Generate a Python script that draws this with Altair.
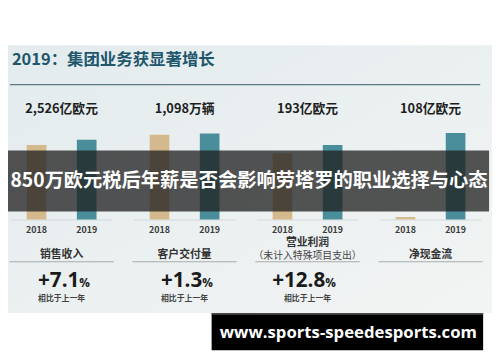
import altair as alt
import pandas as pd

# ---- data ----
categories = ["销售收入", "客户交付量", "营业利润", "净现金流"]
years = ["2018", "2019"]
values_2018 = [2359, 1084, 171, 3]
values_2019 = [2526, 1098, 193, 108]
headline_labels = ["2,526亿欧元", "1,098万辆", "193亿欧元", "108亿欧元"]
category_notes = ["", "", "（未计入特殊项目支出）", ""]
growth_values = ["+7.1", "+1.3", "+12.8", ""]
growth_caption = "相比于上一年"
title_text = "2019：集团业务获显著增长"
banner_text = "850万欧元税后年薪是否会影响劳塔罗的职业选择与心态"
footer_text = "www.sports-speedesports.com"

# each small panel has its own y scale (scale maxima, not data)
scale_tops = [3119, 1258, 255, 123]

W, H = 492, 354
FONT = "Noto Sans CJK SC"

bars_df = pd.DataFrame({
    "category": categories * 2,
    "year": [years[0]] * 4 + [years[1]] * 4,
    "value": values_2018 + values_2019,
})
cats_df = pd.DataFrame({
    "category": categories,
    "headline": headline_labels,
    "note": category_notes,
    "growth": growth_values,
})
one = pd.DataFrame({"k": [0]})

x_enc = alt.X("category:N",
              scale=alt.Scale(domain=categories, range=[-8, 492],
                              paddingInner=0, paddingOuter=0),
              axis=None)
xo_enc = alt.XOffset("year:N",
                     scale=alt.Scale(domain=years, paddingInner=0.608,
                                     paddingOuter=0.53))
color_enc = alt.Color("year:N",
                      scale=alt.Scale(domain=years, range=["#d4b98d", "#4a8e9b"]),
                      legend=None)

layers = []

# background panel
layers.append(alt.Chart(one).mark_rect(
    fill=alt.Gradient(gradient="linear",
                      stops=[alt.GradientStop(color="#e3ebee", offset=0),
                             alt.GradientStop(color="#f2f4f3", offset=1)],
                      x1=0, y1=0, x2=1, y2=1)
).encode(x=alt.value(-8), x2=alt.value(W), y=alt.value(35), y2=alt.value(307)))

# title + rule
layers.append(alt.Chart(one).mark_text(
    align="left", baseline="middle", fontSize=16.7, fontWeight="bold",
    color="#20566a", font=FONT, text=title_text
).encode(x=alt.value(4), y=alt.value(50)))
layers.append(alt.Chart(one).mark_rule(color="#5a7885", strokeWidth=1.2).encode(
    x=alt.value(2), x2=alt.value(480), y=alt.value(75)))

# headline values
layers.append(alt.Chart(cats_df).mark_text(
    fontSize=13, fontWeight="bold", color="#1e1e1e", font=FONT, baseline="middle"
).encode(x=x_enc, y=alt.value(100), text="headline:N"))

# baselines under bars
layers.append(alt.Chart(cats_df).mark_tick(
    orient="horizontal", size=103, thickness=1, color="#cbd3d6"
).encode(x=x_enc, y=alt.value(212.5)))

# bars, one y scale per panel
for cat, top in zip(categories, scale_tops):
    layers.append(alt.Chart(bars_df).transform_filter(
        alt.datum.category == cat
    ).mark_bar().encode(
        x=x_enc, xOffset=xo_enc,
        y=alt.Y("value:Q", scale=alt.Scale(domain=[0, top], range=[212, 112]),
                axis=None),
        color=color_enc,
    ))

# year labels
layers.append(alt.Chart(bars_df).mark_text(
    fontSize=9, fontWeight="bold", color="#3a3a3a", baseline="middle", font=FONT
).encode(x=x_enc, xOffset=xo_enc, y=alt.value(223), text="year:N"))

# category labels
layers.append(alt.Chart(cats_df).transform_filter(alt.datum.note == "").mark_text(
    fontSize=11, fontWeight="bold", color="#333333", baseline="middle", font=FONT
).encode(x=x_enc, y=alt.value(248), text="category:N"))
layers.append(alt.Chart(cats_df).transform_filter(alt.datum.note != "").mark_text(
    fontSize=11, fontWeight="bold", color="#333333", baseline="middle", font=FONT
).encode(x=x_enc, y=alt.value(236), text="category:N"))
layers.append(alt.Chart(cats_df).transform_filter(alt.datum.note != "").mark_text(
    fontSize=10, color="#444444", baseline="middle", font=FONT
).encode(x=x_enc, y=alt.value(249), text="note:N"))

# underlines
layers.append(alt.Chart(cats_df).mark_tick(
    orient="horizontal", size=106, thickness=1, color="#8a8f91"
).encode(x=x_enc, y=alt.value(255)))

# growth figures
growth_base = alt.Chart(cats_df).transform_filter(alt.datum.growth != "")
layers.append(growth_base.mark_text(
    align="right", dx=18, fontSize=21, fontWeight="bold", color="#1a1a1a",
    baseline="alphabetic", font="Open Sans"
).encode(x=x_enc, y=alt.value(281), text="growth:N"))
layers.append(growth_base.mark_text(
    align="left", dx=18, fontSize=12, fontWeight="bold", color="#1a1a1a",
    baseline="alphabetic", font="Open Sans", text="%"
).encode(x=x_enc, y=alt.value(281)))
layers.append(growth_base.mark_text(
    fontSize=8, fontWeight="bold", color="#444444", baseline="middle",
    font=FONT, text=growth_caption
).encode(x=x_enc, y=alt.value(293)))

# overlay banner
layers.append(alt.Chart(one).mark_rect(color="#1f1f1f", opacity=0.76).encode(
    x=alt.value(-8), x2=alt.value(489), y=alt.value(142), y2=alt.value(204)))
layers.append(alt.Chart(one).mark_text(
    fontSize=19.6, fontWeight="bold", color="white", align="center",
    baseline="middle", font=FONT, text=banner_text
).encode(x=alt.value(245), y=alt.value(173)))

# footer box
layers.append(alt.Chart(one).mark_rect(color="#000000").encode(
    x=alt.value(207), x2=alt.value(483), y=alt.value(307), y2=alt.value(345)))
layers.append(alt.Chart(one).mark_rect(color="#4a4a4a").encode(
    x=alt.value(207), x2=alt.value(483), y=alt.value(307), y2=alt.value(309)))
layers.append(alt.Chart(one).mark_text(
    fontSize=17, fontWeight="bold", color="white", align="center",
    baseline="middle", font="Open Sans", text=footer_text
).encode(x=alt.value(346), y=alt.value(328)))

chart = alt.layer(*layers).resolve_scale(y="independent").properties(
    width=W, height=H, padding=0, background="white",
    autosize=alt.AutoSizeParams(type="none"),
).configure_view(strokeWidth=0, stroke="transparent")

chart.save("out.html", embed_options={"renderer": "svg", "actions": False})
